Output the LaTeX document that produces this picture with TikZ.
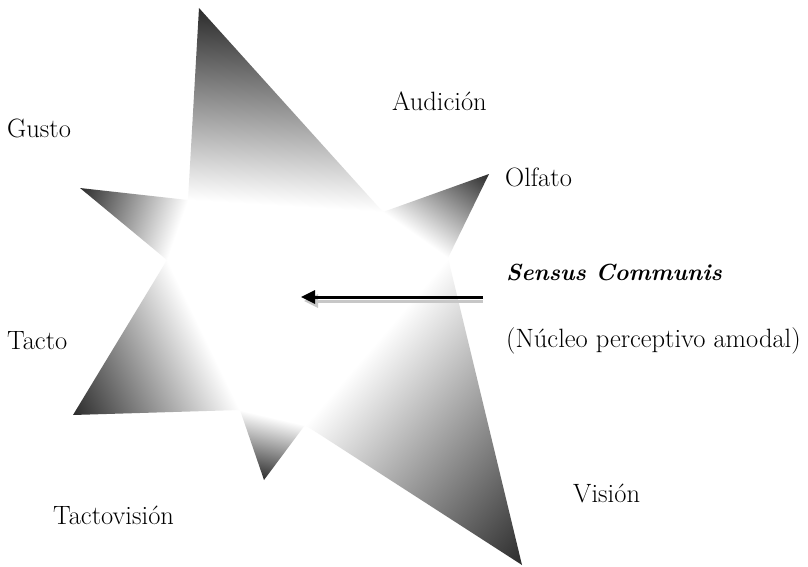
\documentclass[tikz,border=0pt]{standalone}
\usetikzlibrary{arrows.meta}
\definecolor{tipc}{gray}{0.17}
\definecolor{midc}{gray}{0.64}
\definecolor{shadowc}{gray}{0.78}
\tikzset{
  lbl/.style={anchor=base west, inner sep=0pt, font=\fontsize{26.5}{30}\selectfont},
  sclbl/.style={anchor=base west, inner sep=0pt, font=\fontsize{23.3}{27}\selectfont\bfseries\itshape},
  arrowline/.style={line width=3pt, -{Triangle[length=14pt,width=13pt]}},
  shadowline/.style={line width=3pt, draw=shadowc, -{Triangle[length=14pt,width=13pt]}}
}
\newcommand{\spikeshade}[6]{%
  \begin{scope}
    \clip #1 -- #2 -- #3 -- cycle;
    \begin{scope}[transform canvas={shift={#4},rotate=#5}]
      \shade[left color=white, middle color=midc, right color=tipc] (0,-400) rectangle (#6,400);
    \end{scope}
  \end{scope}}
\begin{document}
\begin{tikzpicture}[x=1pt,y=-1pt]
\useasboundingbox (0,0) rectangle (808,567);
\fill[white] (0,0) rectangle (808,567);
% star outline points
\coordinate (tTop) at (199,8);
\coordinate (tOlf) at (489,174);
\coordinate (tVis) at (522,565);
\coordinate (tTv) at (264,480);
\coordinate (tTac) at (73,415);
\coordinate (tGus) at (80,188);
\coordinate (b1) at (188,200);
\coordinate (b2) at (383,212);
\coordinate (b3) at (448,258);
\coordinate (b4) at (305,425);
\coordinate (b5) at (240,410);
\coordinate (b6) at (167,260);
% white core
\fill[white] (b1) -- (b2) -- (b3) -- (b4) -- (b5) -- (b6) -- cycle;
% spikes with gradients
\spikeshade{(tTop)}{(b1)}{(b2)}{(187.2,199.9)}{86.5}{192.3}
\spikeshade{(tOlf)}{(b2)}{(b3)}{(435.7,249.3)}{54.7}{92.3}
\spikeshade{(tVis)}{(b3)}{(b4)}{(327.6,398.6)}{-40.6}{255.9}
\spikeshade{(tTv)}{(b4)}{(b5)}{(278.1,418.8)}{-103}{62.8}
\spikeshade{(tTac)}{(b5)}{(b6)}{(210.0,348.3)}{-154.05}{152.4}
\spikeshade{(tGus)}{(b6)}{(b1)}{(180.0,223.0)}{160.7}{105.9}
% arrow with shadow
\coordinate (atail) at (483,297);
\coordinate (ahead) at (301,297);
\coordinate (stail) at (483,301);
\coordinate (shead) at (304,301);
\draw[shadowline] (stail) -- (shead);
\draw[arrowline] (atail) -- (ahead);
% labels
\node[lbl] (gusto) at (7,138) {Gusto};
\node[lbl] (aud) at (392,111) {Audición};
\node[lbl] (olf) at (505,186) {Olfato};
\node[sclbl] (sc) at (506,280) {Sensus Communis};
\node[lbl] (nuc) at (506,347) {(Núcleo perceptivo amodal)};
\node[lbl] (tacto) at (7,349) {Tacto};
\node[lbl] (vis) at (573,502) {Visión};
\node[lbl] (tv) at (53,524) {Tactovisión};
\end{tikzpicture}
\end{document}
